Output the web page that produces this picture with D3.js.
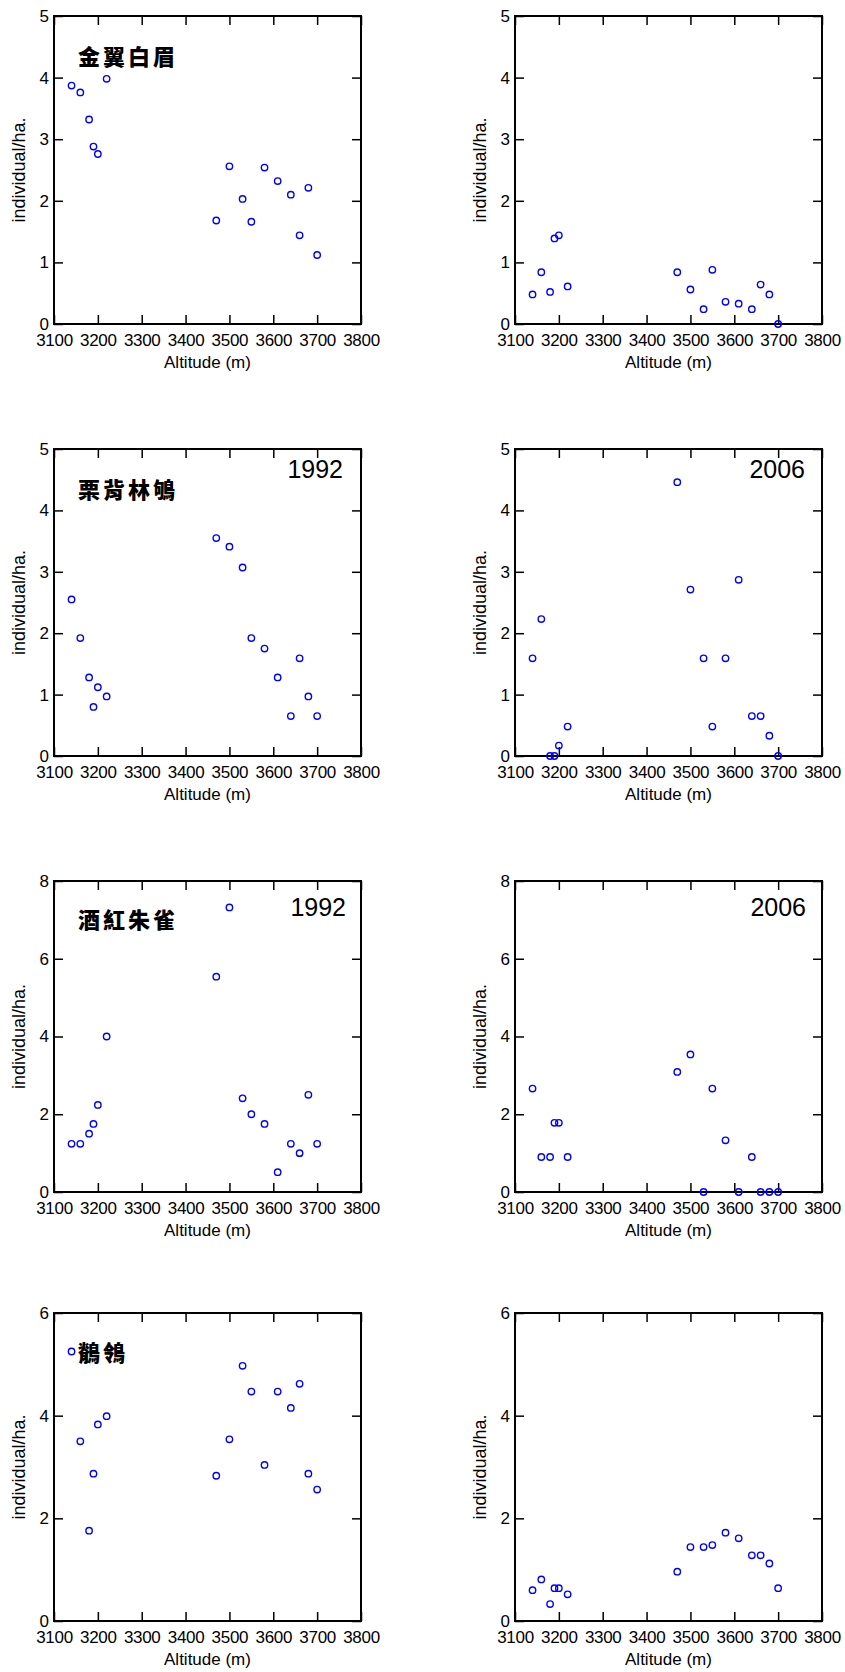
<!DOCTYPE html>
<html>
<head>
<meta charset="utf-8">
<script src="https://cdn.jsdelivr.net/npm/d3@7"></script>
<style>
  body { margin: 0; background: #fff; }
  svg text { font-family: "Liberation Sans", Arial, sans-serif; fill: #000; }
  .tick line { stroke: #000; stroke-width: 1.5; }
  .domain { display: none; }
  .species { font-family: "Noto Sans CJK TC", "Noto Sans CJK SC", sans-serif !important; font-weight: 900; }
</style>
</head>
<body>
<div id="chart"></div>
<script>
// sampling sites (m), same for every panel
const altitudes = [3140, 3160, 3180, 3190, 3200, 3220, 3470, 3500, 3530, 3550, 3580, 3610, 3640, 3660, 3680, 3700];

// density (individual/ha.) per site, 1992 and 2006
const jinyi1992   = [3.87, 3.76, 3.32, 2.88, 2.76, 3.98, 1.68, 2.56, 2.03, 1.66, 2.54, 2.32, 2.10, 1.44, 2.21, 1.12];
const jinyi2006   = [0.48, 0.84, 0.52, 1.39, 1.44, 0.61, 0.84, 0.56, 0.24, 0.88, 0.36, 0.33, 0.24, 0.64, 0.48, 0.00];
const libei1992   = [2.55, 1.92, 1.28, 0.80, 1.12, 0.97, 3.55, 3.41, 3.07, 1.92, 1.75, 1.28, 0.65, 1.59, 0.97, 0.65];
const libei2006   = [1.59, 2.23, 0.00, 0.00, 0.17, 0.48, 4.46, 2.71, 1.59, 0.48, 1.59, 2.87, 0.65, 0.65, 0.33, 0.00];
const jiuhong1992 = [1.24, 1.24, 1.50, 1.75, 2.24, 4.00, 5.54, 7.32, 2.41, 2.00, 1.75, 0.51, 1.24, 1.00, 2.50, 1.24];
const jiuhong2006 = [2.66, 0.90, 0.90, 1.78, 1.78, 0.90, 3.09, 3.54, 0.00, 2.66, 1.33, 0.00, 0.90, 0.00, 0.00, 0.00];
const jiling1992  = [5.25, 3.50, 1.76, 2.87, 3.83, 3.99, 2.83, 3.54, 4.97, 4.47, 3.04, 4.47, 4.15, 4.62, 2.87, 2.56];
const jiling2006  = [0.60, 0.81, 0.33, 0.64, 0.64, 0.52, 0.96, 1.44, 1.44, 1.48, 1.72, 1.61, 1.28, 1.28, 1.12, 0.64];

// labels and axes, one entry per row
const speciesNames = ["金翼白眉", "栗背林鴝", "酒紅朱雀", "鶺鴒"];
const yearLabels = [["", ""], ["1992", "2006"], ["1992", "2006"], ["", ""]];
const yMaxes = [5, 5, 8, 6];
const yTickSteps = [1, 1, 2, 2];
const xDomain = [3100, 3800];
const xTicks = [3100, 3200, 3300, 3400, 3500, 3600, 3700, 3800];
const rowSeries = [
    [jinyi1992, jinyi2006],
    [libei1992, libei2006],
    [jiuhong1992, jiuhong2006],
    [jiling1992, jiling2006]
];

// layout (pixels)
const width = 845, height = 1672;
const colLeft = [54, 515];
const plotW = 307;
const rowTop = [16, 449, 881, 1313];
const rowBottom = [324, 756, 1192, 1621];
const yearBaseline = [0, 478, 916, 0];
const yearRight = [[0, 0], [343, 805], [346, 806], [0, 0]];
const nameBaseline = [65, 498, 928, 1361];

const svg = d3.select("#chart").append("svg")
    .attr("width", width)
    .attr("height", height);

function drawPanel(row, col) {
    const left = colLeft[col], top = rowTop[row];
    const h = rowBottom[row] - top;
    const values = rowSeries[row][col];

    const g = svg.append("g").attr("transform", `translate(${left},${top})`);

    const x = d3.scaleLinear().domain(xDomain).range([0, plotW]);
    const y = d3.scaleLinear().domain([0, yMaxes[row]]).range([h, 0]);
    const yTicks = d3.range(0, yMaxes[row] + 0.001, yTickSteps[row]);

    // inward ticks on all four sides
    g.append("g")
        .attr("transform", `translate(0,${h})`)
        .call(d3.axisBottom(x).tickValues(xTicks).tickFormat(d3.format("d"))
            .tickSize(-9).tickSizeOuter(0).tickPadding(10))
        .call(a => a.selectAll("text").style("font-size", "17px").attr("letter-spacing", "-0.3"));
    g.append("g")
        .call(d3.axisTop(x).tickValues(xTicks).tickFormat("").tickSize(-9).tickSizeOuter(0));
    g.append("g")
        .call(d3.axisLeft(y).tickValues(yTicks).tickFormat(d3.format("d"))
            .tickSize(-9).tickSizeOuter(0).tickPadding(5))
        .call(a => a.selectAll("text").style("font-size", "17px"));
    g.append("g")
        .attr("transform", `translate(${plotW},0)`)
        .call(d3.axisRight(y).tickValues(yTicks).tickFormat("").tickSize(-9).tickSizeOuter(0));

    // frame
    g.append("rect")
        .attr("width", plotW)
        .attr("height", h)
        .attr("fill", "none")
        .attr("stroke", "#000")
        .attr("stroke-width", 2);

    // axis titles
    g.append("text")
        .attr("x", plotW / 2)
        .attr("y", h + 44)
        .attr("text-anchor", "middle")
        .style("font-size", "17px")
        .text("Altitude (m)");
    g.append("text")
        .attr("transform", `translate(-29,${h / 2}) rotate(-90)`)
        .attr("text-anchor", "middle")
        .style("font-size", "18px")
        .text("individual/ha.");

    // points
    g.selectAll("circle.pt")
        .data(altitudes.map((a, i) => ({alt: a, v: values[i]})))
        .enter()
        .append("circle")
        .attr("class", "pt")
        .attr("cx", d => x(d.alt))
        .attr("cy", d => y(d.v))
        .attr("r", 3.2)
        .attr("fill", "none")
        .attr("stroke", "#0000ff")
        .attr("stroke-width", 1.4);

    // year tag
    if (yearLabels[row][col]) {
        svg.append("text")
            .attr("x", yearRight[row][col])
            .attr("y", yearBaseline[row])
            .attr("text-anchor", "end")
            .style("font-size", "25px")
            .text(yearLabels[row][col]);
    }

    // species name only on the left column
    if (col === 0) {
        svg.append("text")
            .attr("class", "species")
            .attr("x", 78)
            .attr("y", nameBaseline[row])
            .attr("letter-spacing", "3")
            .style("font-size", "22px")
            .text(speciesNames[row]);
    }
}

for (let r = 0; r < 4; r++) {
    drawPanel(r, 0);
    drawPanel(r, 1);
}
</script>
</body>
</html>
